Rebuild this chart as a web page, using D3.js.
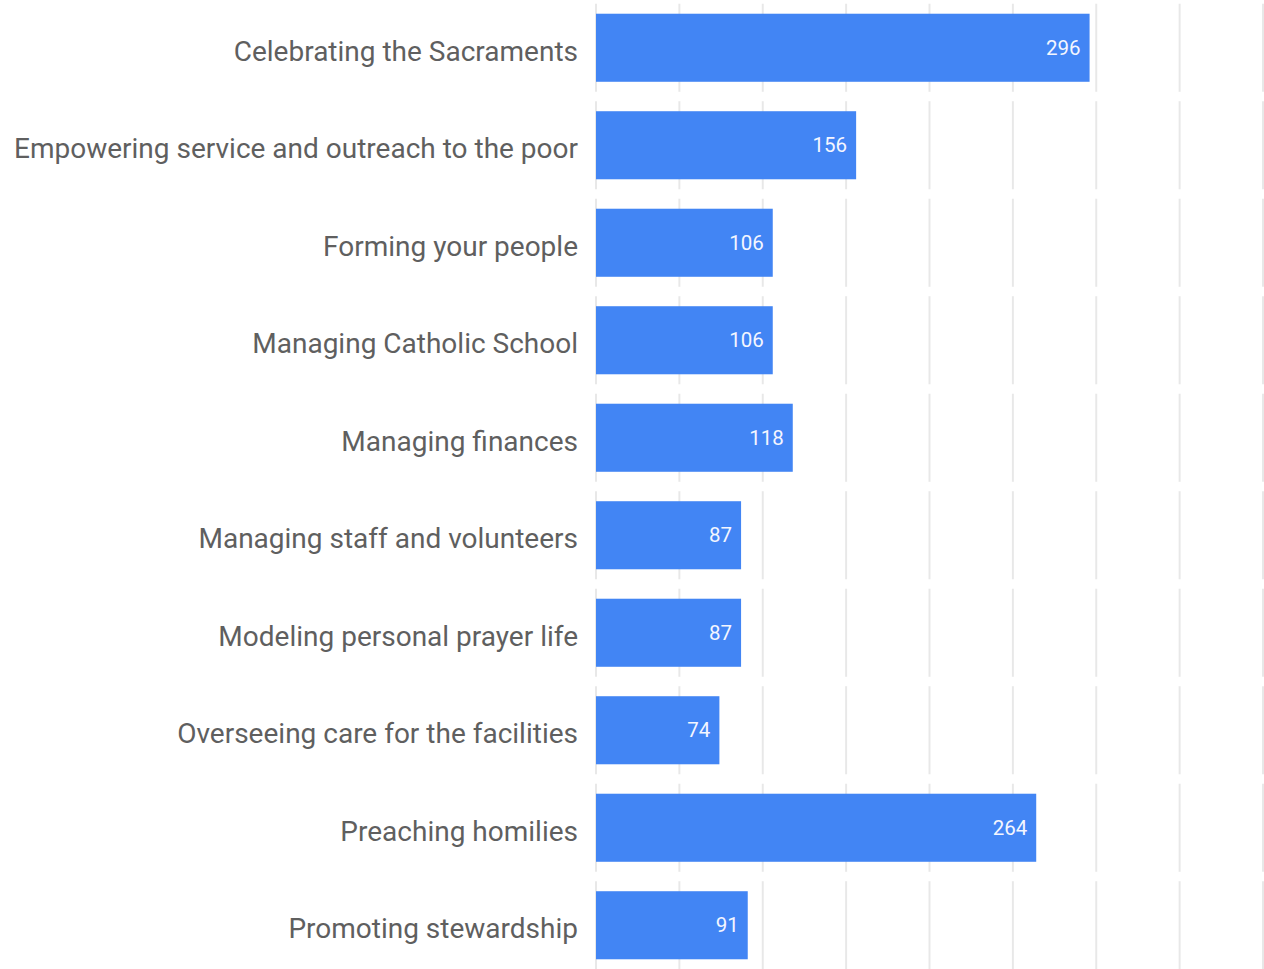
<!DOCTYPE html>
<html>
  <head>
    <meta charset="utf-8">
    <title>Bar chart</title>
    <script src="https://d3js.org/d3.v7.min.js"></script>
    <style>
      body {
        margin: 0;
        background: #fff;
      }
      svg {
        font-family: Roboto, Arial, sans-serif;
        display: block;
      }
    </style>
  </head>
  <body>
    <div id="chart"></div>
    <script>
      // categories and counts
      const categories = [
        "Celebrating the Sacraments",
        "Empowering service and outreach to the poor",
        "Forming your people",
        "Managing Catholic School",
        "Managing finances",
        "Managing staff and volunteers",
        "Modeling personal prayer life",
        "Overseeing care for the facilities",
        "Preaching homilies",
        "Promoting stewardship"
      ];
      const counts = [296, 156, 106, 106, 118, 87, 87, 74, 264, 91];
      const gridTicks = [0, 50, 100, 150, 200, 250, 300, 350, 400];

      const data = categories.map((c, i) => ({name: c, value: counts[i]}));

      const width = 1264;
      const height = 969;
      const margin = {top: -1, right: 1, bottom: -5, left: 596};

      const svg = d3.select("#chart")
        .append("svg")
        .attr("width", width)
        .attr("height", height);

      const x = d3.scaleLinear()
        .domain([0, 400])
        .range([margin.left, width - margin.right]);

      const y = d3.scaleBand()
        .domain(categories)
        .range([margin.top, height - margin.bottom])
        .paddingInner(0.302)
        .paddingOuter(0.151);

      // gridlines, broken into one segment per row
      const rows = svg.append("g").attr("class", "grid");
      data.forEach(d => {
        rows.selectAll(null)
          .data(gridTicks)
          .enter().append("line")
          .attr("x1", t => x(t))
          .attr("x2", t => x(t))
          .attr("y1", y(d.name) - 10)
          .attr("y2", y(d.name) + y.bandwidth() + 10)
          .attr("stroke", "#e8e8e8")
          .attr("stroke-width", 2);
      });

      // bars
      svg.append("g")
        .selectAll(".bar")
        .data(data)
        .enter().append("rect")
        .attr("class", "bar")
        .attr("x", x(0))
        .attr("y", d => y(d.name))
        .attr("width", d => x(d.value) - x(0))
        .attr("height", y.bandwidth())
        .attr("fill", "#4285f4");

      // value labels inside the bars
      svg.append("g")
        .selectAll(".value")
        .data(data)
        .enter().append("text")
        .attr("class", "value")
        .attr("x", d => x(d.value) - 9)
        .attr("y", d => y(d.name) + y.bandwidth() / 2)
        .attr("dy", "0.35em")
        .attr("text-anchor", "end")
        .attr("fill", "#f4f6ff")
        .style("font-size", "20.5px")
        .text(d => d.value);

      // category labels
      const yAxis = d3.axisLeft(y).tickSize(0).tickPadding(18);
      svg.append("g")
        .attr("transform", `translate(${x(0)},4)`)
        .call(yAxis)
        .call(g => g.select(".domain").remove())
        .call(g => g.selectAll("text")
          .attr("fill", "#5f5f5f")
          .style("font-size", "28px")
          .style("font-family", "Roboto, Arial, sans-serif"));
    </script>
  </body>
</html>
